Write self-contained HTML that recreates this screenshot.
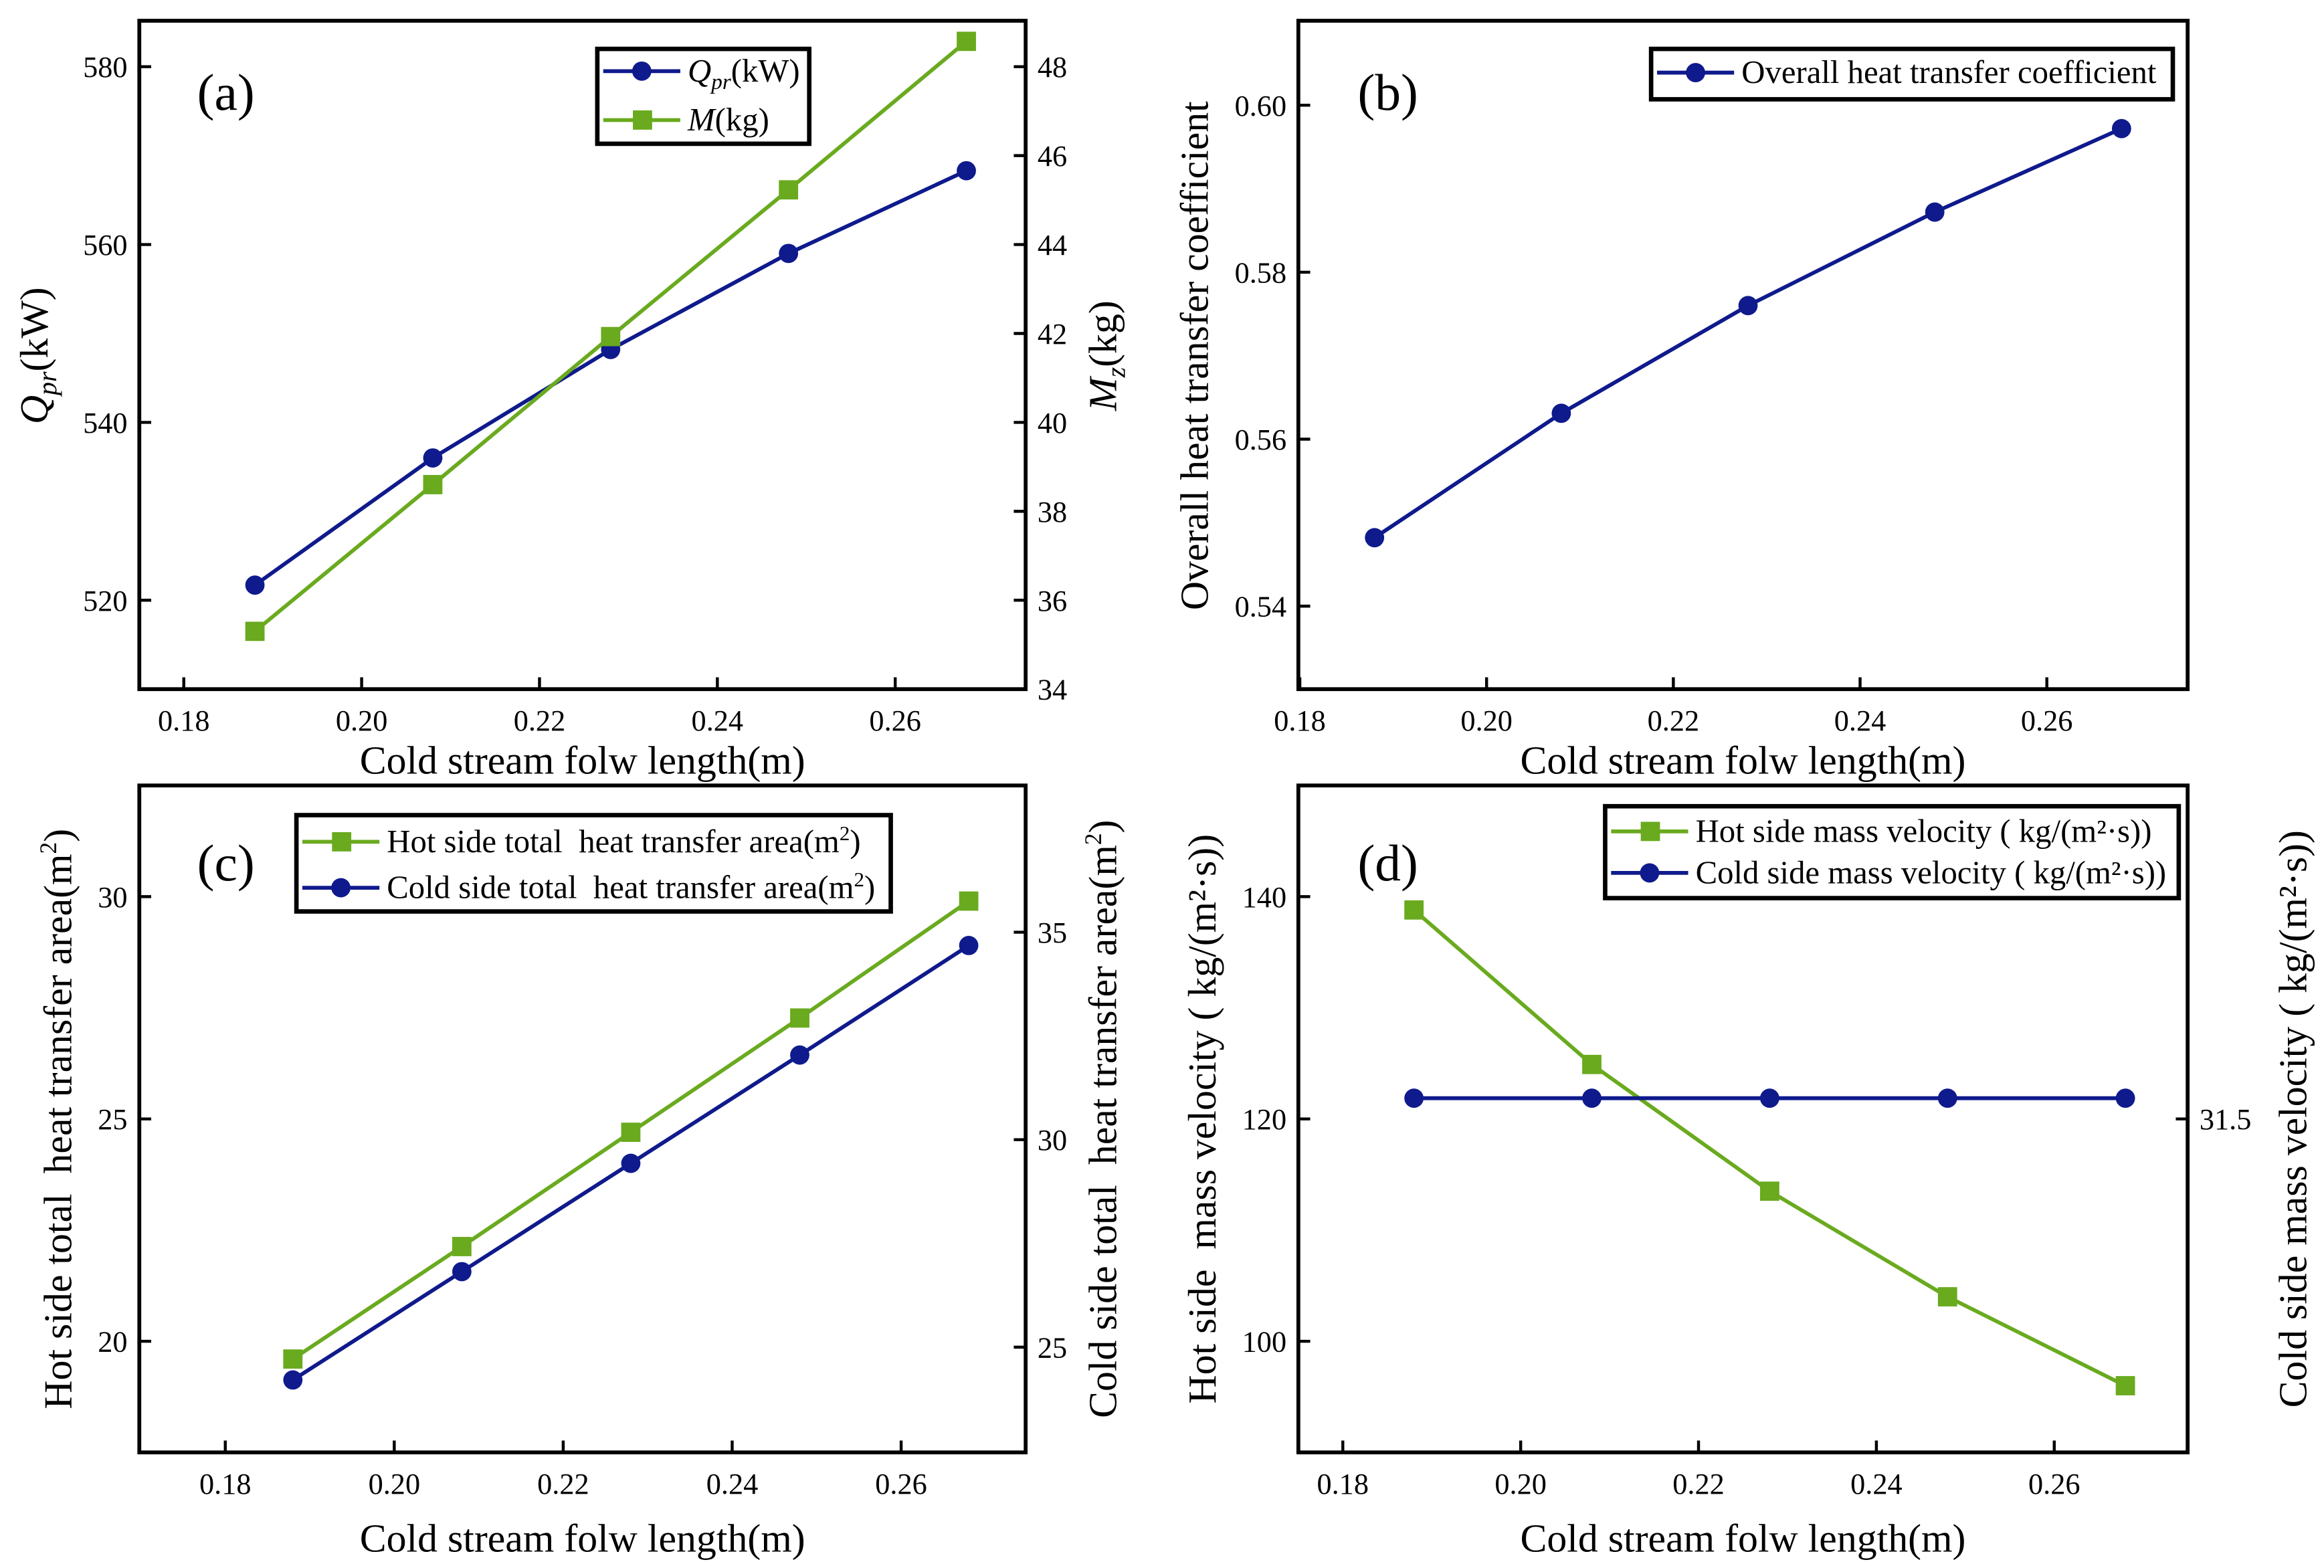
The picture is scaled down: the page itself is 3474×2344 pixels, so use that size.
<!DOCTYPE html>
<html><head><meta charset="utf-8"><style>
html,body{margin:0;padding:0;background:#fff}
svg{display:block;font-family:"Liberation Serif",serif}
</style></head><body>
<svg id="fig" width="3474" height="2344" viewBox="0 0 1568 1058" preserveAspectRatio="none" xmlns="http://www.w3.org/2000/svg"></svg>
<script>
const xCats = [0.188, 0.208, 0.228, 0.248, 0.268];
const xTicks = [0.18, 0.20, 0.22, 0.24, 0.26];
const xTickLabels = ["0.18", "0.20", "0.22", "0.24", "0.26"];
const qprValues = [521.7, 536.0, 548.2, 559.0, 568.3];
const massValues = [35.3, 38.6, 41.93, 45.23, 48.57];
const uValues = [0.5482, 0.5631, 0.576, 0.5872, 0.5972];
const hotAreaValues = [19.6, 22.13, 24.7, 27.27, 29.9];
const coldAreaValues = [24.21, 26.82, 29.43, 32.04, 34.68];
const hotVelValues = [138.8, 124.9, 113.5, 104.0, 96.0];
const coldVelValues = [31.52, 31.52, 31.52, 31.52, 31.52];
const qTicks = [520, 540, 560, 580];
const mTicks = [34, 36, 38, 40, 42, 44, 46, 48];
const uTicks = [0.54, 0.56, 0.58, 0.60];
const hotATicks = [20, 25, 30];
const coldATicks = [25, 30, 35];
const hotVTicks = [100, 120, 140];
const coldVTicks = [31.5];

const NS = "http://www.w3.org/2000/svg";
const svg = document.getElementById("fig");
const BLUE = "#0f1a8c", GREEN = "#6aaa1f";
const TICK = 20, TITLE = 27, LEG = 22;
function el(tag, attrs, parent) {
  const e = document.createElementNS(NS, tag);
  for (const k in attrs) e.setAttribute(k, attrs[k]);
  (parent || svg).appendChild(e);
  return e;
}
function lin(d0, d1, r0, r1) { return v => r0 + (v - d0) * (r1 - r0) / (d1 - d0); }

function panel(cfg) {
  const g = el("g", {});
  
  
  const b = cfg.box;
  const fr = el("rect", {x: b[0], y: b[1], width: b[2]-b[0], height: b[3]-b[1], fill: "none", stroke: "#000", "stroke-width": 2.6}, g);
  
  
  xTicks.forEach((t, i) => {
    const x = cfg.sx(t);
    el("line", {x1: x, x2: x, y1: b[3], y2: b[3]-8, stroke: "#000", "stroke-width": 2}, g);
    const tx = el("text", {x: x, y: b[3]+28, "font-size": TICK, "text-anchor": "middle"}, g);
    tx.textContent = xTickLabels[i];
    
    
  });
  const xt = el("text", {x: (b[0]+b[2])/2, y: cfg.xTitleY, "font-size": TITLE, "text-anchor": "middle"}, g);
  xt.textContent = "Cold stream folw length(m)";
  
  
  cfg.lTicks.forEach(t => {
    const y = cfg.sl(t);
    el("line", {x1: b[0], x2: b[0]+8, y1: y, y2: y, stroke: "#000", "stroke-width": 2}, g);
    const tx = el("text", {x: b[0]-8, y: y+7, "font-size": TICK, "text-anchor": "end"}, g);
    tx.textContent = String(t.toFixed(cfg.lDec));
    
    
  });
  if (cfg.rTicks) cfg.rTicks.forEach(t => {
    const y = cfg.sr(t);
    el("line", {x1: b[2], x2: b[2]-8, y1: y, y2: y, stroke: "#000", "stroke-width": 2}, g);
    const tx = el("text", {x: b[2]+8, y: y+7, "font-size": TICK, "text-anchor": "start"}, g);
    tx.textContent = String(t.toFixed(cfg.rDec));
    
    
  });
  cfg.yTitles.forEach(tt => {
    const t = el("text", {x: 0, y: 0, "font-size": TITLE, "text-anchor": "middle", transform: `translate(${tt.x},${tt.y}) rotate(-90)`}, g);
    t.innerHTML = tt.html;
    
    
  });
  const pl = el("text", {x: cfg.label[0], y: cfg.label[1], "font-size": 35}, g);
  pl.textContent = cfg.label[2];
  
  
  cfg.series.forEach(s => {
    const pts = xCats.map((x, i) => [cfg.sx(x), s.scale(s.values[i])]);
    const line = el("polyline", {points: pts.map(p => p.join(",")).join(" "), fill: "none", stroke: s.color, "stroke-width": 2.6}, g);
    
    
    pts.forEach(p => {
      let m;
      if (s.marker === "circle") m = el("circle", {cx: p[0], cy: p[1], r: 6.5, fill: s.color}, g);
      else m = el("rect", {x: p[0]-6.5, y: p[1]-6.5, width: 13, height: 13, fill: s.color}, g);
      
      
    });
  });
  const L = cfg.legend;
  const lg = el("g", {}, g);
  
  
  el("rect", {x: L.box[0], y: L.box[1], width: L.box[2]-L.box[0], height: L.box[3]-L.box[1], fill: "#fff", stroke: "#000", "stroke-width": 3}, lg);
  L.items.forEach((it, i) => {
    const y = L.box[1] + L.first + i * L.step;
    const x0 = L.box[0] + 4;
    el("line", {x1: x0, x2: x0+52, y1: y, y2: y, stroke: it.color, "stroke-width": 2.6}, lg);
    if (it.marker === "circle") el("circle", {cx: x0+26, cy: y, r: 6.5, fill: it.color}, lg);
    else el("rect", {x: x0+20, y: y-6.5, width: 13, height: 13, fill: it.color}, lg);
    const t = el("text", {x: x0+57, y: y+7, "font-size": LEG}, lg);
    t.innerHTML = it.html;
    
    
  });
}

{
  const sx = lin(0.18, 0.26, 124, 604);
  const sl = lin(520, 580, 405, 45);
  const sr = lin(34, 48, 465, 45);
  panel({name: "panel-a", box: [94, 14, 692, 465], sx, sl, sr, lTicks: qTicks, lDec: 0, rTicks: mTicks, rDec: 0,
    xTitleY: 522, label: [133, 74, "(a)"],
    yTitles: [
      {x: 32, y: 240, name: "left-y-axis-title", html: '<tspan font-style="italic">Q</tspan><tspan font-style="italic" font-size="18" dy="6">pr</tspan><tspan dy="-6">(kW)</tspan>'},
      {x: 753, y: 240, name: "right-y-axis-title", html: '<tspan font-style="italic">M</tspan><tspan font-style="italic" font-size="18" dy="6">z</tspan><tspan dy="-6">(kg)</tspan>'}],
    series: [
      {name: "qpr", values: qprValues, scale: sl, color: BLUE, marker: "circle"},
      {name: "mass", values: massValues, scale: sr, color: GREEN, marker: "square"}],
    legend: {box: [403, 33, 546, 97], first: 15, step: 33, items: [
      {color: BLUE, marker: "circle", html: '<tspan font-style="italic">Q</tspan><tspan font-style="italic" font-size="15" dy="5">pr</tspan><tspan dy="-5">(kW)</tspan>'},
      {color: GREEN, marker: "square", html: '<tspan font-style="italic">M</tspan>(kg)'}]}
  });
}
{
  const sx = lin(0.18, 0.26, 877, 1381);
  const sl = lin(0.54, 0.60, 409, 71);
  panel({name: "panel-b", box: [876, 14, 1476, 465], sx, sl, lTicks: uTicks, lDec: 2,
    xTitleY: 522, label: [916, 74, "(b)"],
    yTitles: [{x: 815, y: 240, name: "y-axis-title", html: 'Overall heat transfer coefficient'}],
    series: [{name: "overall-u", values: uValues, scale: sl, color: BLUE, marker: "circle"}],
    legend: {box: [1114, 33, 1466, 67], first: 16, step: 30, items: [
      {color: BLUE, marker: "circle", html: 'Overall heat transfer coefficient'}]}
  });
}
{
  const sx = lin(0.18, 0.26, 152, 608);
  const sl = lin(20, 30, 905, 605);
  const sr = lin(25, 35, 909, 629);
  panel({name: "panel-c", box: [94, 530, 692, 980], sx, sl, sr, lTicks: hotATicks, lDec: 0, rTicks: coldATicks, rDec: 0,
    xTitleY: 1047, label: [133, 594, "(c)"],
    yTitles: [
      {x: 48, y: 755, name: "left-y-axis-title", html: 'Hot side total &#160;heat transfer area(m<tspan font-size="16" dy="-10">2</tspan><tspan dy="10">)</tspan>'},
      {x: 753, y: 755, name: "right-y-axis-title", html: 'Cold side total &#160;heat transfer area(m<tspan font-size="16" dy="-10">2</tspan><tspan dy="10">)</tspan>'}],
    series: [
      {name: "hot-area", values: hotAreaValues, scale: sl, color: GREEN, marker: "square"},
      {name: "cold-area", values: coldAreaValues, scale: sr, color: BLUE, marker: "circle"}],
    legend: {box: [200, 550, 601, 615], first: 18, step: 31, items: [
      {color: GREEN, marker: "square", html: 'Hot side total &#160;heat transfer area(m<tspan font-size="14" dy="-8">2</tspan><tspan dy="8">)</tspan>'},
      {color: BLUE, marker: "circle", html: 'Cold side total &#160;heat transfer area(m<tspan font-size="14" dy="-8">2</tspan><tspan dy="8">)</tspan>'}]}
  });
}
{
  const sx = lin(0.18, 0.26, 906, 1386);
  const sl = lin(100, 140, 905, 605);
  const sr = lin(31.5, 31.52, 755, 741);
  panel({name: "panel-d", box: [876, 530, 1476, 980], sx, sl, sr, lTicks: hotVTicks, lDec: 0, rTicks: coldVTicks, rDec: 1,
    xTitleY: 1047, label: [916, 594, "(d)"],
    yTitles: [
      {x: 820, y: 755, name: "left-y-axis-title", html: 'Hot side &#160;mass velocity ( kg/(m²·s))'},
      {x: 1556, y: 755, name: "right-y-axis-title", html: 'Cold side mass velocity ( kg/(m²·s))'}],
    series: [
      {name: "hot-velocity", values: hotVelValues, scale: sl, color: GREEN, marker: "square"},
      {name: "cold-velocity", values: coldVelValues, scale: sr, color: BLUE, marker: "circle"}],
    legend: {box: [1083, 544, 1470, 606], first: 17, step: 28, items: [
      {color: GREEN, marker: "square", html: 'Hot side mass velocity ( kg/(m²·s))'},
      {color: BLUE, marker: "circle", html: 'Cold side mass velocity ( kg/(m²·s))'}]}
  });
}
</script>
</body></html>
